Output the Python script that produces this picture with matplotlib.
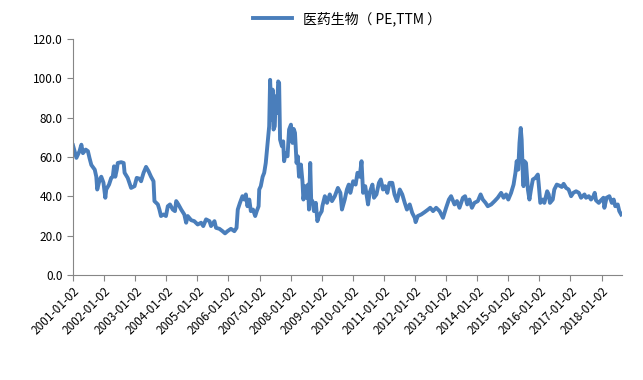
import numpy as np
import matplotlib.pyplot as plt

plt.rcParams['font.family'] = ['Noto Sans CJK SC', 'DejaVu Sans']

# decimal year, PE (TTM)
years = [
    2001.00, 2001.11, 2001.21, 2001.27, 2001.32, 2001.41, 2001.48, 2001.53, 2001.59, 2001.70,
    2001.75, 2001.78, 2001.86, 2001.91, 2001.98, 2002.04, 2002.07, 2002.16, 2002.23, 2002.28,
    2002.32, 2002.36, 2002.41, 2002.44, 2002.55, 2002.63, 2002.66, 2002.76, 2002.87, 2002.98,
    2003.05, 2003.14, 2003.19, 2003.27, 2003.35, 2003.43, 2003.51, 2003.59, 2003.62, 2003.73,
    2003.78, 2003.83, 2003.91, 2003.99, 2004.05, 2004.12, 2004.21, 2004.28, 2004.32, 2004.39,
    2004.48, 2004.58, 2004.64, 2004.69, 2004.80, 2004.90, 2005.01, 2005.12, 2005.19, 2005.28,
    2005.39, 2005.44, 2005.55, 2005.60, 2005.71, 2005.81, 2005.89, 2005.97, 2006.08, 2006.19,
    2006.26, 2006.30, 2006.37, 2006.45, 2006.51, 2006.56, 2006.61, 2006.67, 2006.72, 2006.79,
    2006.86, 2006.91, 2006.97, 2006.99, 2007.04, 2007.10, 2007.15, 2007.20, 2007.26, 2007.31,
    2007.34, 2007.39, 2007.42, 2007.45, 2007.49, 2007.52, 2007.56, 2007.60, 2007.63, 2007.66,
    2007.72, 2007.76, 2007.79, 2007.84, 2007.90, 2007.95, 2008.01, 2008.06, 2008.10, 2008.14,
    2008.19, 2008.23, 2008.27, 2008.33, 2008.38, 2008.41, 2008.47, 2008.51, 2008.56, 2008.59,
    2008.63, 2008.66, 2008.70, 2008.75, 2008.81, 2008.86, 2008.91, 2009.00,
    2009.02, 2009.10, 2009.17, 2009.26, 2009.33, 2009.42, 2009.52, 2009.60, 2009.65, 2009.74,
    2009.81, 2009.87, 2009.92, 2010.01, 2010.09, 2010.15, 2010.22, 2010.28, 2010.33, 2010.40,
    2010.49, 2010.54, 2010.63, 2010.68, 2010.76, 2010.84, 2010.90, 2010.97, 2011.04, 2011.11,
    2011.18, 2011.27, 2011.34, 2011.42, 2011.51, 2011.59, 2011.67, 2011.74, 2011.83, 2011.91,
    2011.99, 2012.02, 2012.09, 2012.20, 2012.31, 2012.42, 2012.49, 2012.58, 2012.68, 2012.79,
    2012.90, 2013.00, 2013.09, 2013.16, 2013.27, 2013.35, 2013.43, 2013.54, 2013.61, 2013.68,
    2013.75, 2013.83, 2013.91, 2014.02, 2014.11, 2014.18, 2014.27, 2014.34, 2014.45, 2014.56,
    2014.66, 2014.77, 2014.85, 2014.93, 2015.00, 2015.09, 2015.17, 2015.23, 2015.27, 2015.32,
    2015.36, 2015.40, 2015.43, 2015.47, 2015.49, 2015.52, 2015.57, 2015.63, 2015.68, 2015.73,
    2015.79, 2015.87, 2015.95, 2015.98, 2016.03, 2016.11, 2016.16, 2016.25, 2016.30, 2016.34,
    2016.43, 2016.48, 2016.56, 2016.64, 2016.72, 2016.78, 2016.86, 2016.94, 2017.02, 2017.09,
    2017.18, 2017.27, 2017.34, 2017.45, 2017.50, 2017.59, 2017.66, 2017.74, 2017.78, 2017.82,
    2017.91, 2017.98, 2018.06, 2018.09, 2018.16, 2018.25, 2018.33, 2018.39, 2018.44, 2018.52,
    2018.57, 2018.63,
]
pe = [
    66.0, 59.6, 63.0, 66.3, 62.0, 63.8, 63.0, 59.6, 56.0, 53.6,
    50.0, 43.5, 48.6, 50.0, 47.0, 39.3, 43.5, 46.0, 49.4, 50.0,
    55.3, 50.0, 53.6, 57.0, 57.4, 57.0, 52.0, 49.4, 44.3, 45.2,
    49.4, 49.0, 47.7, 52.0, 55.0, 52.8, 50.0, 47.7, 37.6, 35.9,
    33.3, 30.0, 30.8, 30.0, 35.0, 35.9, 33.3, 32.5, 37.6, 35.9,
    33.3, 30.8, 26.6, 30.0, 27.9, 27.4, 25.7, 26.6, 24.9, 28.3,
    27.4, 24.9, 27.4, 24.0, 23.5, 22.3, 21.2, 22.3, 23.5, 22.3,
    24.0, 33.3, 36.7, 40.1, 38.4, 41.0, 35.0, 38.4, 32.5, 33.3,
    30.0, 32.5, 35.0, 43.5, 45.2, 50.0, 52.0, 57.0, 67.2, 75.7,
    99.3, 79.0, 94.3, 74.0, 75.7, 90.9, 82.4, 98.5, 97.7, 68.9,
    65.5, 68.0, 57.9, 62.0, 60.4, 74.0, 76.5, 67.2, 74.3, 72.3,
    57.0, 60.4, 50.0, 56.2, 47.7, 38.4, 45.2, 39.3, 46.0, 33.3,
    57.0, 38.4, 37.6, 32.5, 36.7, 27.4, 30.0, 32.5,
    35.0, 40.1, 36.7, 41.0, 37.6, 40.1, 44.3, 41.8, 33.3, 38.4,
    43.5, 46.0, 41.8, 47.7, 46.0, 52.0, 50.0, 57.9, 41.8, 45.2,
    35.9, 41.8, 46.0, 39.3, 41.0, 46.9, 48.6, 43.5, 45.2, 41.8,
    46.9, 46.9, 41.0, 37.6, 43.5, 41.0, 36.7, 33.3, 35.9, 31.6,
    29.1, 26.9, 30.0, 30.8, 32.0, 33.3, 34.2, 32.5, 34.2, 32.5,
    29.1, 34.2, 38.4, 40.1, 35.9, 37.6, 34.2, 39.3, 40.1, 35.9,
    38.4, 34.2, 36.7, 37.6, 41.0, 38.4, 36.7, 35.0, 35.9, 37.6,
    39.3, 41.8, 39.3, 41.0, 38.4, 41.8, 46.0, 52.0, 57.9, 53.6,
    67.2, 74.8, 68.9, 50.0, 45.2, 57.9, 57.0, 43.5, 38.4, 43.5,
    48.6, 49.4, 51.1, 46.0, 36.7, 38.4, 36.7, 42.6, 41.0, 36.7,
    38.4, 43.5, 46.0, 45.5, 44.8, 46.4, 44.3, 43.5, 40.1, 41.8,
    42.6, 41.8, 39.3, 41.0, 39.3, 40.1, 38.4, 40.1, 41.8, 38.0,
    36.7, 38.0, 39.3, 34.2, 39.3, 40.1, 36.7, 38.4, 35.0, 35.9,
    32.5, 30.8,
]
tick_years = list(range(2001, 2019))
tick_labels = [f'{y}-01-02' for y in tick_years]

fig = plt.figure(figsize=(6.43, 3.80), dpi=100)
ax = fig.add_axes([0.1135, 0.2763, 0.8535, 0.6207])

ax.plot(years, pe, color='#4A7EBB', lw=2.8, solid_joinstyle='round',
        label='医药生物（ PE,TTM ）')

ax.set_xlim(2001.0, 2018.65)
ax.set_ylim(0, 120)
ax.set_yticks(np.arange(0, 121, 20))
ax.set_yticklabels([f'{v:.1f}' for v in np.arange(0, 121, 20)])
ax.set_xticks(tick_years)
ax.set_xticklabels(tick_labels, rotation=45, ha='right', rotation_mode='anchor')

for s in ['top', 'right']:
    ax.spines[s].set_visible(False)
for s in ['left', 'bottom']:
    ax.spines[s].set_color('#868686')
ax.tick_params(axis='both', colors='#868686', length=4, labelcolor='black',
               labelsize=8.5)
ax.tick_params(axis='x', pad=3)

ax.legend(loc='upper center', bbox_to_anchor=(0.5, 1.17), frameon=False,
          fontsize=10, handlelength=2.8)

fig.savefig('out.png', dpi=100)
